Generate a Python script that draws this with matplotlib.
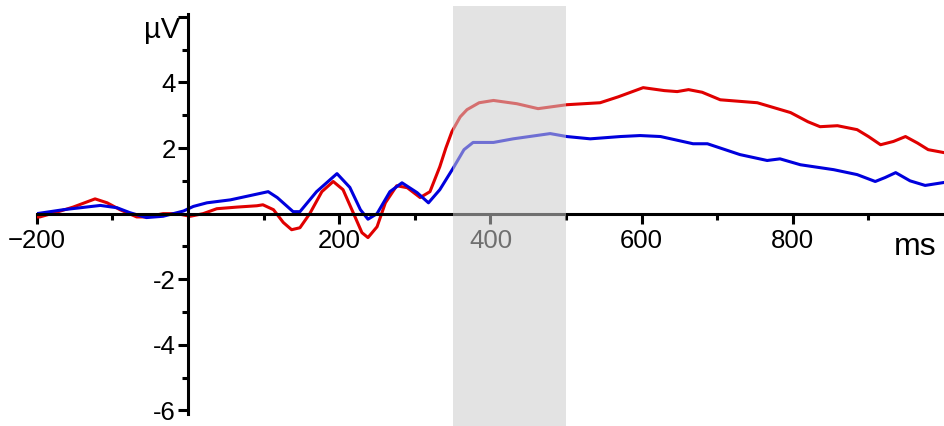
import numpy as np
import matplotlib.pyplot as plt
from matplotlib.patches import Rectangle
from matplotlib.ticker import FixedLocator

plt.rcParams['font.family'] = ['Liberation Sans', 'DejaVu Sans']

# red condition (ms, uV)
red_t = [-200, -196, -173, -152, -123, -107, -90, -68, -55, -33, -15, 3, 20, 38, 65, 91,
         99, 113, 126, 137, 148, 161, 177, 192, 205, 219, 230, 238, 250, 261, 276, 290,
         307, 320, 333, 341, 349, 360, 369, 385, 404, 435, 463, 501, 545, 569, 602, 630,
         647, 662, 680, 704, 753, 797, 820, 836, 859, 885, 900, 916, 933, 949, 965, 979, 1000]
red_v = [-0.1, -0.1, 0.05, 0.2, 0.45, 0.33, 0.12, -0.1, -0.1, 0.0, 0.0, -0.08, 0.0, 0.15, 0.2, 0.24,
         0.27, 0.12, -0.27, -0.49, -0.43, 0.0, 0.67, 0.98, 0.73, 0.0, -0.58, -0.73, -0.4, 0.33, 0.85, 0.79,
         0.49, 0.67, 1.43, 2.0, 2.5, 2.95, 3.17, 3.38, 3.45, 3.35, 3.2, 3.32, 3.38, 3.56, 3.84, 3.75,
         3.72, 3.78, 3.7, 3.47, 3.38, 3.08, 2.8, 2.65, 2.68, 2.56, 2.35, 2.1, 2.2, 2.35, 2.15, 1.95, 1.86]

# blue condition (ms, uV)
blue_t = [-200, -165, -116, -94, -77, -55, -33, -6, 7, 25, 56, 82, 106, 118, 139, 148,
          170, 197, 214, 228, 238, 250, 267, 283, 303, 318, 333, 351, 365, 377, 404, 430,
          479, 501, 532, 572, 598, 625, 668, 687, 730, 766, 783, 810, 854, 885, 909, 922,
          936, 955, 975, 1000]
blue_v = [0.0, 0.12, 0.25, 0.18, 0.03, -0.12, -0.08, 0.08, 0.22, 0.33, 0.42, 0.55, 0.67, 0.49, 0.06, 0.06,
          0.67, 1.22, 0.8, 0.12, -0.17, 0.0, 0.67, 0.94, 0.64, 0.33, 0.73, 1.4, 1.95, 2.17, 2.17, 2.28,
          2.44, 2.35, 2.28, 2.35, 2.38, 2.35, 2.13, 2.13, 1.8, 1.62, 1.67, 1.49, 1.34, 1.19, 0.98, 1.1,
          1.25, 1.0, 0.86, 0.95]

window = (350, 500)

x_major = [-200, 200, 400, 600, 800]
x_minor = [-100, 100, 300, 500, 700, 900]
y_major = [-6, -4, -2, 2, 4, 6]
y_labels = ['-6', '-4', '-2', '2', '4', '']
y_minor = [-5, -3, -1, 1, 3, 5]

fig = plt.figure(figsize=(9.45, 4.26), dpi=100)
ax = fig.add_axes([0.039, 0.021, 0.96, 0.955])

ax.plot(red_t, red_v, color='#e00000', lw=2.2, zorder=3, solid_joinstyle='round')
ax.plot(blue_t, blue_v, color='#0000dd', lw=2.2, zorder=3, solid_joinstyle='round')

ax.set_xlim(-200, 1000)
ax.set_ylim(-6.2, 6.2)

for s in ['top', 'right']:
    ax.spines[s].set_visible(False)
ax.spines['left'].set_position(('data', 0))
ax.spines['bottom'].set_position(('data', 0))
ax.spines['left'].set_bounds(-6.1, 6.1)
for s in ['left', 'bottom']:
    ax.spines[s].set_linewidth(2.2)
    ax.spines[s].set_zorder(4)

ax.xaxis.set_major_locator(FixedLocator(x_major))
ax.xaxis.set_minor_locator(FixedLocator(x_minor))
ax.set_yticks(y_major)
ax.set_yticklabels(y_labels)
ax.yaxis.set_minor_locator(FixedLocator(y_minor))
ax.tick_params(axis='both', which='major', length=7, width=2.2, labelsize=18.5, direction='out')
ax.tick_params(axis='both', which='minor', length=4.5, width=2.2, direction='out')
ax.tick_params(axis='x', pad=4)
ax.tick_params(axis='y', pad=2)

ax.text(990, -0.55, 'ms', fontsize=23, ha='right', va='top')
ax.text(-10, 5.6, 'µV', fontsize=21, ha='right', va='center')

# grey analysis window drawn on top
rect = Rectangle((window[0], -0.03), window[1] - window[0], 1.04,
                 transform=ax.get_xaxis_transform(), facecolor='#cccccc',
                 alpha=0.55, edgecolor='none', zorder=6, clip_on=False)
ax.add_patch(rect)

fig.savefig('out.png', dpi=100)
